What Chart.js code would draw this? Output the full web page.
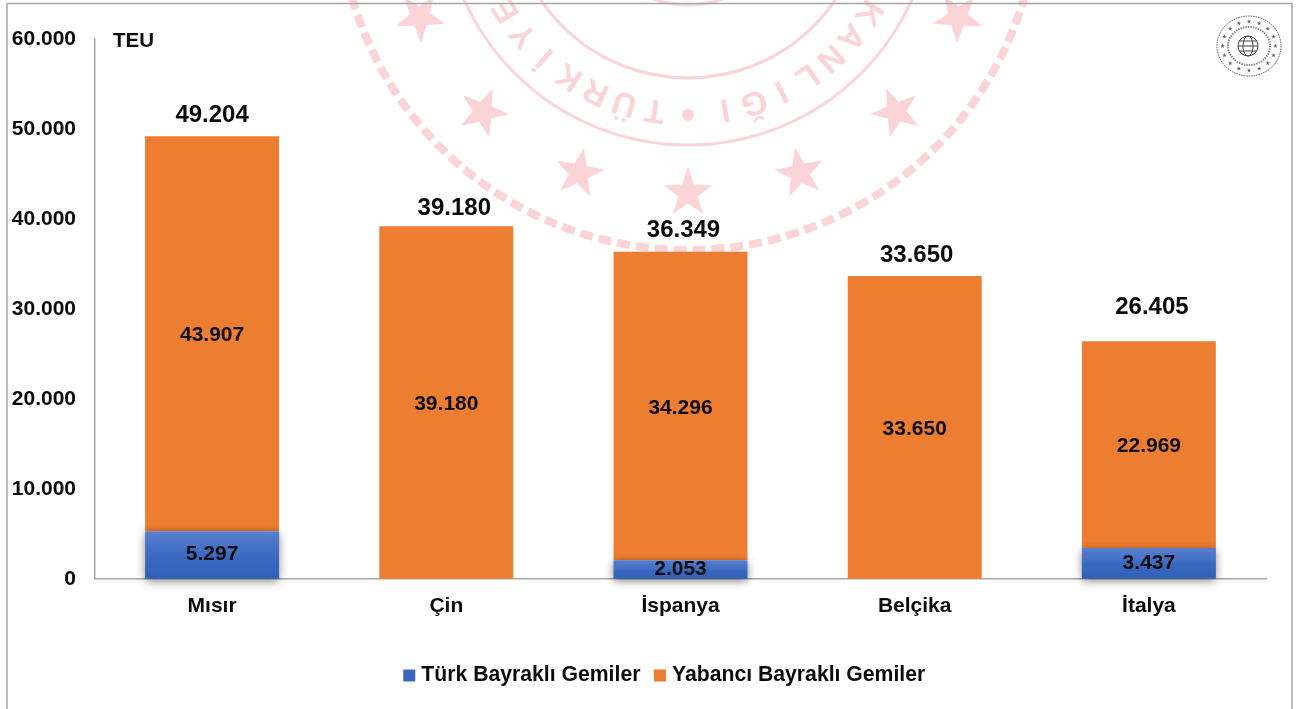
<!DOCTYPE html>
<html><head><meta charset="utf-8">
<script src="https://cdn.jsdelivr.net/npm/chart.js@4"></script>
<style>html,body{margin:0;padding:0;background:#fff;overflow:hidden}#w{position:absolute;left:0;top:0;width:1299px;height:709px}</style>
</head><body><div id="w"><canvas id="c" width="1299" height="709"></canvas></div>
<script>
const categories = ["Mısır","Çin","İspanya","Belçika","İtalya"];
const turkFlag = [5297,null,2053,null,3437];
const foreignFlag = [43907,39180,34296,33650,22969];
const totals = [49204,39180,36349,33650,26405];
const seriesNames = ["Türk Bayraklı Gemiler","Yabancı Bayraklı Gemiler"];
const unitLabel = "TEU";
const totalDx = [0,8,3,2,3];
const totalDy = [-21,-18,-21,-21,-34];

const FONT = '"Liberation Sans", Arial, sans-serif';
const TXT = '#0b0b0b', GRAY = '#a6a6a6', PINK = '#fad4d7';
const fmt = v => String(v).replace(/\B(?=(\d{3})+(?!\d))/g, '.');

function star(ctx, x, y, r, rot, color) {
  ctx.save(); ctx.translate(x, y); ctx.rotate(rot); ctx.fillStyle = color; ctx.beginPath();
  for (let i = 0; i < 10; i++) {
    const a = -Math.PI/2 + i*Math.PI/5, q = i%2 ? r*0.4 : r;
    ctx.lineTo(q*Math.cos(a), q*Math.sin(a));
  }
  ctx.closePath(); ctx.fill(); ctx.restore();
}
function seal(ctx) {
  const cx = 688, cy = -100;
  ctx.save();
  ctx.strokeStyle = PINK; ctx.lineWidth = 3;
  [245,178,105].forEach(r => { ctx.beginPath(); ctx.arc(cx, cy, r, 0, Math.PI*2); ctx.stroke(); });
  ctx.lineWidth = 8; ctx.setLineDash([13,6]);
  ctx.beginPath(); ctx.arc(cx, cy, 350, 0, Math.PI*2); ctx.stroke();
  ctx.setLineDash([]);
  [[420,17],[958,17],[483,112],[896,112],[579,173],[800,173],[688,193]].forEach(p => {
    star(ctx, p[0], p[1], 26, Math.atan2(cx-p[0], p[1]-cy)*0.5, PINK);
  });
  ctx.fillStyle = PINK; ctx.font = 'bold 33px ' + FONT; ctx.textAlign = 'center'; ctx.textBaseline = 'middle';
  const put = (ch, deg) => {
    const t = deg*Math.PI/180;
    ctx.save(); ctx.translate(cx - 212*Math.sin(t), cy + 212*Math.cos(t)); ctx.rotate(t + Math.PI);
    ctx.fillText(ch, 0, 0); ctx.restore();
  };
  [..."TÜRKİYE"].forEach((ch,i) => put(ch, 9 + 8.3*i));
  const right = [..."BAKANLIĞI"];
  right.forEach((ch,i) => put(ch, -10 - 8*(right.length-1-i)));
  ctx.beginPath(); ctx.arc(688, 115, 6, 0, Math.PI*2); ctx.fill();
  ctx.restore();
}
function logo(ctx) {
  const x = 1249, y = 46;
  ctx.save();
  ctx.strokeStyle = '#555'; ctx.lineWidth = 1;
  ctx.setLineDash([1.5,1]);
  ctx.beginPath(); ctx.ellipse(x, y, 32, 30, 0, 0, Math.PI*2); ctx.stroke();
  ctx.beginPath(); ctx.ellipse(x, y, 21, 19, 0, 0, Math.PI*2); ctx.lineWidth = 2; ctx.strokeStyle = '#888'; ctx.stroke();
  ctx.setLineDash([]);
  for (let i = 0; i < 16; i++) {
    const a = i*Math.PI/8;
    star(ctx, x + 26.5*Math.cos(a), y + 24.5*Math.sin(a), 2.4, 0, '#666');
  }
  ctx.strokeStyle = '#444'; ctx.lineWidth = 1;
  ctx.beginPath(); ctx.arc(x-1, y, 10, 0, Math.PI*2); ctx.stroke();
  ctx.beginPath(); ctx.ellipse(x-1, y, 5, 10, 0, 0, Math.PI*2); ctx.stroke();
  ctx.beginPath(); ctx.moveTo(x-11, y); ctx.lineTo(x+9, y); ctx.moveTo(x-10, y-5); ctx.lineTo(x+8, y-5); ctx.moveTo(x-10, y+5); ctx.lineTo(x+8, y+5); ctx.stroke();
  ctx.restore();
}
const decor = {
  id: 'decor',
  afterLayout(chart) { chart.legend.left = 67; },
  beforeDraw(chart) {
    const ctx = chart.ctx;
    ctx.save();
    ctx.fillStyle = '#fff'; ctx.fillRect(0, 0, 1299, 709);
    seal(ctx);
    ctx.strokeStyle = GRAY; ctx.lineWidth = 1.5;
    ctx.beginPath(); ctx.moveTo(7, 720); ctx.lineTo(7, 3.5); ctx.lineTo(1292, 3.5); ctx.lineTo(1292, 720); ctx.stroke();
    logo(ctx);
    ctx.restore();
  },
  beforeDatasetDraw(chart, args) {
    if (args.index === 0) {
      const ctx = chart.ctx; ctx.save();
      ctx.shadowColor = 'rgba(0,0,0,0.5)'; ctx.shadowBlur = 9; ctx.shadowOffsetY = 2;
    }
  },
  afterDatasetDraw(chart, args) { if (args.index === 0) chart.ctx.restore(); },
  afterDatasetsDraw(chart) {
    const ctx = chart.ctx;
    ctx.save();
    ctx.fillStyle = TXT; ctx.textAlign = 'center'; ctx.textBaseline = 'middle';
    ctx.font = 'bold 21px ' + FONT;
    chart.data.datasets.forEach((ds, d) => {
      chart.getDatasetMeta(d).data.forEach((el, i) => {
        if (ds.data[i] == null) return;
        const p = el.getProps(['x','y','base'], true);
        ctx.fillText(fmt(ds.data[i]), p.x, (p.y + p.base)/2 + (d === 0 ? -0.5 : 2));
      });
    });
    ctx.font = 'bold 24px ' + FONT;
    const top = chart.getDatasetMeta(1).data;
    totals.forEach((t, i) => ctx.fillText(fmt(t), top[i].x + totalDx[i], chart.scales.y.getPixelForValue(t) + totalDy[i]));
    ctx.font = 'bold 20.5px ' + FONT; ctx.textAlign = 'left';
    ctx.fillText(unitLabel, 113, 41);
    ctx.restore();
  }
};
function blueFill(c) {
  const area = c.chart.chartArea;
  if (!area) return '#3a67bd';
  const y = c.chart.scales.y, v = c.raw == null ? 0 : c.raw;
  const y0 = y.getPixelForValue(0), y1 = y.getPixelForValue(v);
  if (y0 === y1) return '#3a67bd';
  const g = c.chart.ctx.createLinearGradient(0, y1, 0, y0);
  g.addColorStop(0, '#5a80cf'); g.addColorStop(0.55, '#3a68c0'); g.addColorStop(1, '#2f60b8');
  return g;
}
new Chart(document.getElementById('c'), {
  type: 'bar',
  data: { labels: categories, datasets: [
    { label: seriesNames[0], data: turkFlag, backgroundColor: blueFill, clip: false },
    { label: seriesNames[1], data: foreignFlag, backgroundColor: '#ed7d31', clip: false }
  ]},
  plugins: [decor],
  options: {
    responsive: false, animation: false, events: [],
    layout: { padding: { left: 0, right: 33, top: 39, bottom: 13 } },
    datasets: { bar: { barPercentage: 0.572, categoryPercentage: 1 } },
    scales: {
      x: { stacked: true,
        grid: { display: false }, border: { color: GRAY, width: 1.5 },
        ticks: { color: TXT, font: { family: FONT, weight: 'bold', size: 21 }, padding: 7, maxRotation: 0 },
        afterFit(s) { s.height = 68; } },
      y: { stacked: true, min: 0, max: 60000,
        grid: { display: false }, border: { color: GRAY, width: 1.5 },
        ticks: { stepSize: 10000, color: TXT, padding: 11, callback: v => fmt(v),
          font: { family: FONT, weight: 'bold', size: 21 } },
        afterFit(s) { s.width = 95; } }
    },
    plugins: {
      tooltip: { enabled: false }, title: { display: false },
      legend: { position: 'bottom',
        labels: { color: TXT, font: { family: FONT, weight: 'bold', size: 21.2 }, boxWidth: 3, boxHeight: 3, padding: 18,
          generateLabels(chart) {
            return chart.data.datasets.map((d, i) => { const col = i ? '#ed7d31' : '#3a68c0'; return { text: d.label, fontColor: TXT, fillStyle: col, strokeStyle: col, lineWidth: 9, datasetIndex: i }; });
          } } }
    }
  }
});
</script></body></html>
